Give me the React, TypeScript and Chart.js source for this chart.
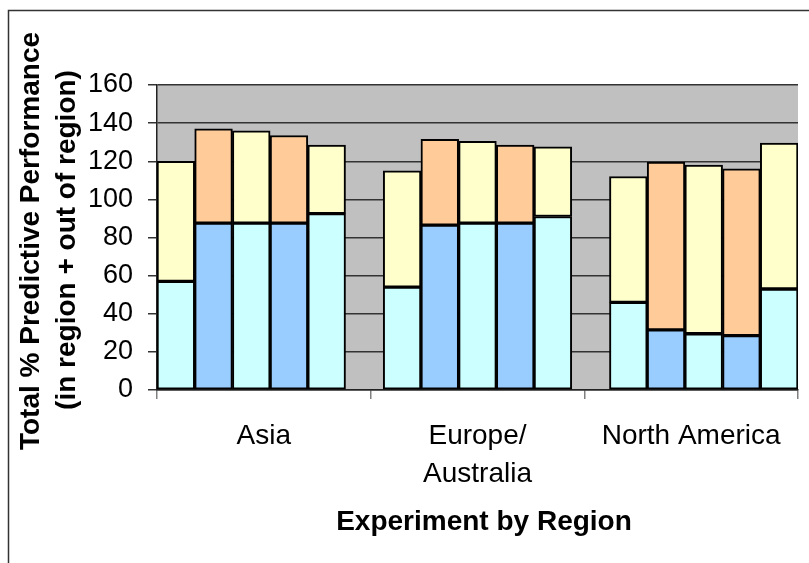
import React, { useEffect, useRef } from 'react';
import { Chart, registerables } from 'chart.js';

Chart.register(...registerables);

// Region names shown under the category axis
const regions: (string | string[])[] = ['Asia', ['Europe/', 'Australia'], 'North America'];

// In-region predictive performance (lower segment), five experiments per region
const asiaIn = [57, 87.5, 87.5, 87.5, 92.5];
const europeIn = [54, 86.5, 87.5, 87.5, 91];
const northAmericaIn = [46, 31.5, 29.5, 28.5, 53];

// Out-of-region predictive performance (upper segment)
const asiaOut = [63, 49.5, 48.5, 46, 36];
const europeOut = [61, 45, 43, 41, 36.5];
const northAmericaOut = [66, 88, 88.5, 87.5, 76.5];

// Value axis
const yMin = 0;
const yMax = 160;
const yStep = 20;

const CYAN = '#CCFFFF';
const BLUE = '#99CCFF';
const YELLOW = '#FFFFCC';
const PEACH = '#FFCC99';
const PLOT_BG = '#C0C0C0';
const FONT = "'Liberation Sans', Arial, sans-serif";

const groupsIn = [asiaIn, europeIn, northAmericaIn];
const groupsOut = [asiaOut, europeOut, northAmericaOut];

// Lay the bars out in slots: five bars per region, one empty slot between regions
const slotLabels: string[] = [];
const inData: (number | null)[] = [];
const outData: (number | null)[] = [];
const inColors: string[] = [];
const outColors: string[] = [];
groupsIn.forEach((g, gi) => {
  g.forEach((v, bi) => {
    slotLabels.push(`${gi}-${bi}`);
    inData.push(v);
    outData.push(groupsOut[gi][bi]);
    inColors.push(bi % 2 === 0 ? CYAN : BLUE);
    outColors.push(bi % 2 === 0 ? YELLOW : PEACH);
  });
  if (gi < groupsIn.length - 1) {
    slotLabels.push(`gap-${gi}`);
    inData.push(null);
    outData.push(null);
    inColors.push('transparent');
    outColors.push('transparent');
  }
});

const framePlugin = {
  id: 'frame',
  beforeDraw(chart: any) {
    const { ctx, chartArea } = chart;
    ctx.save();
    ctx.fillStyle = '#FFFFFF';
    ctx.fillRect(0, 0, chart.width, chart.height);
    ctx.fillStyle = PLOT_BG;
    ctx.fillRect(chartArea.left, chartArea.top, chartArea.right - chartArea.left, chartArea.bottom - chartArea.top);
    ctx.restore();
  },
  afterDraw(chart: any) {
    const { ctx } = chart;
    ctx.save();
    // outer chart border
    ctx.strokeStyle = '#333333';
    ctx.lineWidth = 1.5;
    ctx.beginPath();
    ctx.moveTo(8.5, chart.height);
    ctx.lineTo(8.5, 10.5);
    ctx.lineTo(chart.width, 10.5);
    ctx.stroke();

    // axis titles
    ctx.fillStyle = '#000000';
    ctx.textAlign = 'center';
    ctx.textBaseline = 'middle';
    ctx.font = `bold 28px ${FONT}`;
    ctx.fillText('Experiment by Region', 484, 522);

    ctx.save();
    ctx.translate(31, 241);
    ctx.rotate(-Math.PI / 2);
    ctx.fillText('Total % Predictive Performance', 0, 0);
    ctx.restore();
    ctx.save();
    ctx.translate(67, 240);
    ctx.rotate(-Math.PI / 2);
    ctx.fillText('(in region + out of region)', 0, 0);
    ctx.restore();
    ctx.restore();
  },
};

export default function App() {
  const canvasRef = useRef<HTMLCanvasElement | null>(null);

  useEffect(() => {
    if (!canvasRef.current) return;
    const chart = new Chart(canvasRef.current, {
      type: 'bar',
      data: {
        labels: slotLabels,
        datasets: [
          {
            label: 'in region',
            data: inData,
            backgroundColor: inColors,
            borderColor: '#000000',
            borderWidth: 2,
            borderSkipped: false,
            stack: 'total',
            xAxisID: 'x',
            yAxisID: 'y',
            barPercentage: 1,
            categoryPercentage: 1,
          },
          {
            label: 'out of region',
            data: outData,
            backgroundColor: outColors,
            borderColor: '#000000',
            borderWidth: 2,
            borderSkipped: false,
            stack: 'total',
            xAxisID: 'x',
            yAxisID: 'y',
            barPercentage: 1,
            categoryPercentage: 1,
          },
        ],
      },
      options: {
        responsive: false,
        animation: false,
        devicePixelRatio: 1,
        layout: { padding: { top: 85, right: 11, left: 0, bottom: 0 } },
        plugins: {
          legend: { display: false },
          tooltip: { enabled: false },
          title: { display: false },
        },
        scales: {
          x: {
            type: 'category',
            display: false,
            stacked: true,
            offset: true,
          },
          x2: {
            type: 'category',
            labels: regions as any,
            position: 'bottom',
            offset: true,
            grid: {
              offset: true,
              drawOnChartArea: false,
              tickLength: 9,
              color: '#808080',
              lineWidth: 1.5,
            },
            border: { color: '#222222', width: 1.5 },
            ticks: {
              font: { family: FONT, size: 28, lineHeight: 1.36 },
              color: '#000000',
              padding: 18,
              maxRotation: 0,
              autoSkip: false,
            },
            afterFit: (s: any) => {
              s.height = 173;
            },
          },
          y: {
            stacked: true,
            min: yMin,
            max: yMax,
            ticks: {
              stepSize: yStep,
              font: { family: FONT, size: 27 },
              color: '#000000',
              padding: 15,
            },
            grid: { color: '#333333', lineWidth: 1.5, tickLength: 9 },
            border: { color: '#222222', width: 1.5 },
            afterFit: (s: any) => {
              s.width = 157;
            },
          },
        },
      },
      plugins: [framePlugin],
    });
    return () => chart.destroy();
  }, []);

  return (
    <div style={{ position: 'fixed', left: 0, top: 0, width: 809, height: 563, background: '#fff' }}>
      <canvas ref={canvasRef} width={809} height={563} style={{ display: 'block' }} />
    </div>
  );
}
